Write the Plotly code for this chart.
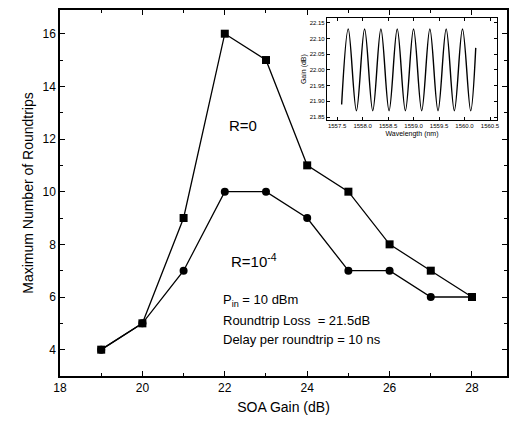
import plotly.graph_objects as go

# Main data
soa_gain = [19, 20, 21, 22, 23, 24, 25, 26, 27, 28]
roundtrips_r0 = [4, 5, 9, 16, 15, 11, 10, 8, 7, 6]
gain_r1e4 = [19, 20, 21, 22, 23, 24, 25, 26, 27, 28]
roundtrips_r1e4 = [4, 5, 7, 10, 10, 9, 7, 7, 6, 6]

x_ticks = [18, 20, 22, 24, 26, 28]
y_ticks = [4, 6, 8, 10, 12, 14, 16]

# Inset data: gain ripple vs wavelength (peaks and troughs)
inset_wl = [1557.59, 1557.72, 1557.88, 1558.04, 1558.20, 1558.36, 1558.52,
            1558.68, 1558.84, 1559.00, 1559.16, 1559.32, 1559.48, 1559.64,
            1559.80, 1559.96, 1560.12, 1560.22]
inset_gain = [21.89, 22.13, 21.87, 22.13, 21.87, 22.13, 21.87,
              22.13, 21.87, 22.13, 21.87, 22.13, 21.87, 22.13,
              21.87, 22.13, 21.87, 22.07]
inset_x_ticks = [1557.5, 1558.0, 1558.5, 1559.0, 1559.5, 1560.0, 1560.5]
inset_x_labels = ["1557.5", "1558.0", "1558.5", "1559.0", "1559.5", "1560.0", "1560.5"]
inset_y_ticks = [21.85, 21.90, 21.95, 22.00, 22.05, 22.10, 22.15]

FONT = "Liberation Sans, Arial, sans-serif"

fig = go.Figure()
fig.add_trace(go.Scatter(
    x=gain_r1e4, y=roundtrips_r1e4, mode="lines+markers",
    line=dict(color="black", width=1.3),
    marker=dict(symbol="circle", size=8, color="black"),
    showlegend=False))
fig.add_trace(go.Scatter(
    x=soa_gain, y=roundtrips_r0, mode="lines+markers",
    line=dict(color="black", width=1.3),
    marker=dict(symbol="square", size=8, color="black"),
    showlegend=False))
fig.add_trace(go.Scatter(
    x=inset_wl, y=inset_gain, mode="lines",
    line=dict(color="black", width=1.4, shape="spline", smoothing=1.0),
    xaxis="x2", yaxis="y2", showlegend=False))

axis_common = dict(showline=True, linecolor="black", linewidth=1.5,
                   mirror="allticks", ticks="inside", ticklen=5,
                   tickcolor="black", showgrid=False, zeroline=False,
                   automargin=False)

fig.update_layout(
    width=510, height=431,
    margin=dict(l=60, r=3, t=10, b=55),
    paper_bgcolor="white", plot_bgcolor="white",
    font=dict(family=FONT, color="black"),
    xaxis=dict(range=[18, 28.85], tickvals=x_ticks,
               tickfont=dict(size=12),
               title=dict(text="SOA Gain (dB)", font=dict(size=14), standoff=8),
               minor=dict(ticks="inside", dtick=1, ticklen=3, tickcolor="black"),
               **axis_common),
    yaxis=dict(range=[3.0, 16.9], tickvals=y_ticks,
               tickfont=dict(size=12),
               title=dict(text="Maximum Number of Roundtrips", font=dict(size=14), standoff=6),
               minor=dict(ticks="inside", dtick=1, ticklen=3, tickcolor="black"),
               **axis_common),
    xaxis2=dict(domain=[0.597, 0.978], anchor="y2", range=[1557.3, 1560.64],
                tickvals=inset_x_ticks, ticktext=inset_x_labels,
                tickfont=dict(size=6),
                title=dict(text="Wavelength (nm)", font=dict(size=7), standoff=2),
                showline=True, linecolor="black", linewidth=1, mirror="allticks",
                ticks="inside", ticklen=3, tickcolor="black",
                showgrid=False, zeroline=False, automargin=False),
    yaxis2=dict(domain=[0.699, 0.978], anchor="x2", range=[21.84, 22.165],
                tickvals=inset_y_ticks, tickformat=".2f",
                tickfont=dict(size=6),
                title=dict(text="Gain (dB)", font=dict(size=7), standoff=2),
                showline=True, linecolor="black", linewidth=1, mirror="allticks",
                ticks="inside", ticklen=3, tickcolor="black",
                showgrid=False, zeroline=False, automargin=False),
    annotations=[
        dict(x=22.45, y=12.5, xref="x", yref="y", text="R=0", showarrow=False,
             font=dict(size=15)),
        dict(x=22.7, y=7.4, xref="x", yref="y", text="R=10<sup>-4</sup>", showarrow=False,
             font=dict(size=15)),
        dict(x=21.9, y=5.85, xref="x", yref="y", xanchor="left",
             text="P<sub>in</sub> = 10 dBm", showarrow=False, font=dict(size=13)),
        dict(x=21.9, y=5.1, xref="x", yref="y", xanchor="left",
             text="Roundtrip Loss  = 21.5dB", showarrow=False, font=dict(size=13)),
        dict(x=21.9, y=4.4, xref="x", yref="y", xanchor="left",
             text="Delay per roundtrip = 10 ns", showarrow=False, font=dict(size=13)),
    ],
)

fig.write_html("out.html", config={"displayModeBar": False},
               post_script=("document.body.style.margin='0';"
                            "document.body.style.overflow='hidden';"
                            "document.documentElement.style.overflow='hidden';"))
